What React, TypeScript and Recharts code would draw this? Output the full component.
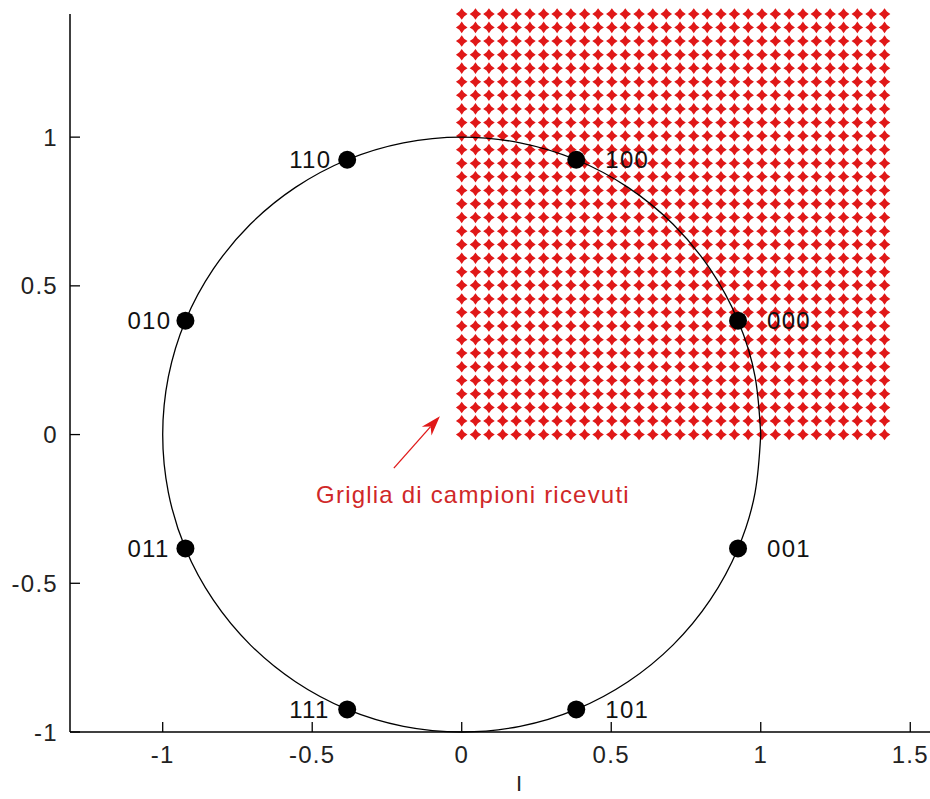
import { ScatterChart, Scatter, XAxis, YAxis, ReferenceLine, ReferenceDot } from 'recharts'

// received samples grid: 32 steps from 0 to sqrt(2) on both I and Q
const gridSteps = [
  0, 0.046, 0.091, 0.137, 0.182, 0.228, 0.274, 0.319, 0.365, 0.411, 0.456,
  0.502, 0.547, 0.593, 0.639, 0.684, 0.73, 0.776, 0.821, 0.867, 0.912, 0.958,
  1.004, 1.049, 1.095, 1.141, 1.186, 1.232, 1.277, 1.323, 1.369, 1.414,
]

// 8-PSK symbols
const symbolLabels = ['000', '100', '110', '010', '011', '111', '101', '001']
const symbolI = [0.924, 0.383, -0.383, -0.924, -0.924, -0.383, 0.383, 0.924]
const symbolQ = [0.383, 0.924, 0.924, 0.383, -0.383, -0.924, -0.924, -0.383]

// unit circle, every 11.25 degrees
const circleI = [
  1, 0.981, 0.924, 0.831, 0.707, 0.556, 0.383, 0.195, 0, -0.195, -0.383, -0.556,
  -0.707, -0.831, -0.924, -0.981, -1, -0.981, -0.924, -0.831, -0.707, -0.556,
  -0.383, -0.195, 0, 0.195, 0.383, 0.556, 0.707, 0.831, 0.924, 0.981, 1,
]
const circleQ = [
  0, 0.195, 0.383, 0.556, 0.707, 0.831, 0.924, 0.981, 1, 0.981, 0.924, 0.831,
  0.707, 0.556, 0.383, 0.195, 0, -0.195, -0.383, -0.556, -0.707, -0.831,
  -0.924, -0.981, -1, -0.981, -0.924, -0.831, -0.707, -0.556, -0.383, -0.195, 0,
]

const xTicks = [-1, -0.5, 0, 0.5, 1, 1.5]
const yTicks = [-1, -0.5, 0, 0.5, 1]

const arrowFrom = { x: -0.227, y: -0.113 }
const arrowTo = { x: -0.073, y: 0.062 }
const noteAt = { x: -0.487, y: -0.201 }
const noteText = 'Griglia di campioni ricevuti'

const gridData = gridSteps.flatMap((q) => gridSteps.map((i) => ({ x: i, y: q })))
const symbolData = symbolLabels.map((label, k) => ({ x: symbolI[k], y: symbolQ[k], label }))
const circleData = circleI.map((x, k) => ({ x, y: circleQ[k] }))

const font = "'Liberation Sans', Arial, sans-serif"
const red = '#e01818'

const XTick = (props: any) => {
  const { x, y, payload } = props
  return (
    <g>
      <line x1={x} y1={y} x2={x} y2={y - 10} stroke="#000" strokeWidth={1.3} />
      <text x={x} y={y + 31} textAnchor="middle" fontSize={24} letterSpacing={1.3} fontFamily={font} fill="#222">
        {payload.value}
      </text>
    </g>
  )
}

const YTick = (props: any) => {
  const { x, y, payload } = props
  return (
    <g>
      <line x1={x} y1={y} x2={x + 10} y2={y} stroke="#000" strokeWidth={1.3} />
      <text x={x - 12} y={y + 8.5} textAnchor="end" fontSize={24} letterSpacing={1.3} fontFamily={font} fill="#222">
        {payload.value}
      </text>
    </g>
  )
}

const Star = (props: any) => {
  const { cx, cy } = props
  const o = 5.8
  const n = 2.4
  return (
    <path
      d={`M${cx},${cy - o} L${cx + n},${cy - n} L${cx + o},${cy} L${cx + n},${cy + n} L${cx},${cy + o} L${cx - n},${cy + n} L${cx - o},${cy} L${cx - n},${cy - n} Z`}
      fill={red}
    />
  )
}

const SymbolDot = (props: any) => {
  const { cx, cy, payload } = props
  const left = payload.x < 0
  return (
    <g>
      <circle cx={cx} cy={cy} r={9} fill="#000" />
      <text
        x={left ? cx - 58 : cx + 29}
        y={cy + 8.5}
        fontSize={24}
        letterSpacing={1.3}
        fontFamily={font}
        fill="#111"
      >
        {payload.label}
      </text>
    </g>
  )
}

const Arrow = (props: any) => {
  const { x1, y1, x2, y2 } = props
  const a = Math.atan2(y2 - y1, x2 - x1)
  const len = 20
  const half = 6.5
  const c = Math.cos(a)
  const s = Math.sin(a)
  const bx = x2 - len * c
  const by = y2 - len * s
  const nx = x2 - len * 0.7 * c
  const ny = y2 - len * 0.7 * s
  return (
    <g>
      <line x1={x1} y1={y1} x2={nx} y2={ny} stroke={red} strokeWidth={1.3} />
      <polygon
        points={`${x2},${y2} ${bx - s * half},${by + c * half} ${nx},${ny} ${bx + s * half},${by - c * half}`}
        fill={red}
      />
    </g>
  )
}

const Note = (props: any) => {
  const { cx, cy } = props
  return (
    <text x={cx} y={cy + 8.5} fontSize={24} letterSpacing={1.2} fontFamily={font} fill="#d02828">
      {noteText}
    </text>
  )
}

export default function App() {
  return (
    <div style={{ position: 'absolute', left: 0, top: 0, background: '#fff' }}>
      <ScatterChart width={930} height={799} margin={{ top: 14, right: 0, bottom: 0, left: 0 }}>
        <XAxis
          type="number"
          dataKey="x"
          domain={[-1.31, 1.566]}
          ticks={xTicks}
          tick={<XTick />}
          tickLine={false}
          tickSize={0}
          tickMargin={0}
          height={67}
          axisLine={{ stroke: '#000', strokeWidth: 1.5 }}
          label={{ value: 'I', position: 'insideBottom', offset: 8, dx: 19, fill: '#222', fontSize: 22, fontFamily: font }}
        />
        <YAxis
          type="number"
          dataKey="y"
          domain={[-1, 1.414]}
          ticks={yTicks}
          tick={<YTick />}
          tickLine={false}
          tickSize={0}
          tickMargin={0}
          width={70}
          axisLine={{ stroke: '#000', strokeWidth: 1.5 }}
        />
        <Scatter data={gridData} shape={<Star />} isAnimationActive={false} />
        <Scatter
          data={circleData}
          fill="#000"
          line={{ stroke: '#000', strokeWidth: 1.3 }}
          lineJointType="natural"
          shape={() => <g />}
          isAnimationActive={false}
        />
        <Scatter data={symbolData} shape={<SymbolDot />} isAnimationActive={false} />
        <ReferenceLine segment={[arrowFrom, arrowTo]} shape={<Arrow />} />
        <ReferenceDot x={noteAt.x} y={noteAt.y} r={0} shape={<Note />} />
      </ScatterChart>
    </div>
  )
}
